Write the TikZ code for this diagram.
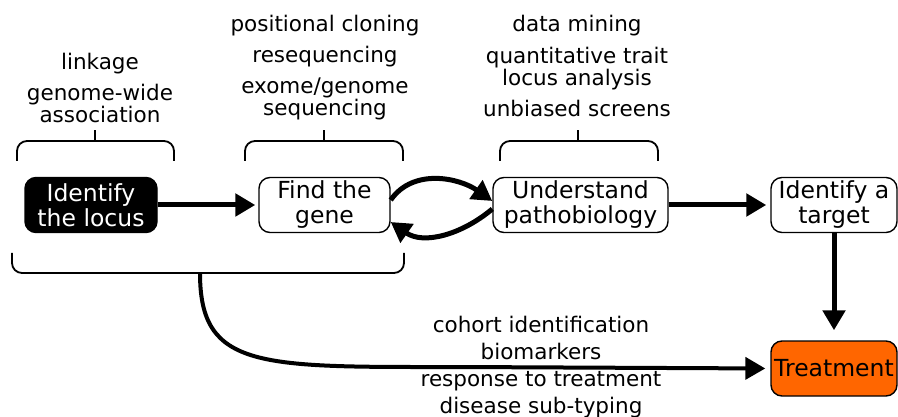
\documentclass[tikz,border=0pt]{standalone}
\usepackage{fontspec}
\setmainfont{DejaVu Sans}
\usetikzlibrary{arrows.meta,positioning}
\definecolor{treatOrange}{HTML}{FF6600}

\begin{document}
\begin{tikzpicture}[
  x=1pt, y=-1pt,
  stage/.style={draw, line width=1.4pt, rounded corners=11pt, align=center,
                inner sep=1pt, minimum height=55pt,
                font=\fontsize{23.5}{25}\selectfont},
  locusstage/.style={stage, fill=black, text=white},
  treatstage/.style={stage, fill=treatOrange},
  note/.style={align=center, inner sep=0pt, anchor=north,
               font=\fontsize{21.5}{22}\selectfont},
  brace/.style={line width=1.8pt, rounded corners=10pt},
  arr/.style={-{Triangle[length=20pt,width=22pt]}, line width=5pt}
]
\useasboundingbox (0,0) rectangle (898,417);

\node[locusstage, minimum width=132pt] (locus) at (91,205) {Identify\\the locus};
\node[stage, minimum width=131pt] (gene) at (324.5,205) {Find the\\gene};
\node[stage, minimum width=175pt] (patho) at (580.5,205) {Understand\\pathobiology};
\node[stage, minimum width=126pt] (target) at (834,205) {Identify a\\target};
\node[treatstage, minimum width=126pt] (treat) at (834,368.5) {Treatment};

\node[note] (locusnote) at (100,53) {linkage\\[9pt]genome-wide\\association};
\node[note] (genenote) at (325,15) {positional cloning\\[9pt]resequencing\\[9pt]exome/genome\\sequencing};
\node[note] (pathonote) at (577,15) {data mining\\[10pt]quantitative trait\\locus analysis\\[9pt]unbiased screens};
\node[note, font=\fontsize{21.5}{27}\selectfont] (outnote) at (541,316)
  {cohort identification\\biomarkers\\response to treatment\\disease sub-typing};

\foreach \l/\r/\m in {17/174/95,245/403/324,500/658/578}{
  \draw[brace] (\l,161) -- (\l,141) -- (\r,141) -- (\r,161);
  \draw[line width=2pt] (\m,141) -- (\m,130);
}
\draw[brace] (12,253) -- (12,273) -- (404,273) -- (404,253);
\coordinate (lowbrace) at (200,273);

\draw[arr, shorten >=3pt] (locus) -- (gene);
\draw[arr, shorten >=4pt] (patho) -- (target);
\draw[arr, shorten >=10pt] (target) -- (treat);
\draw[arr] ([yshift=5pt]gene.east) to[out=55,in=145] ([yshift=4pt]patho.west);
\draw[arr] ([yshift=-4pt]patho.west) to[out=-140,in=-35] ([yshift=-17pt]gene.east);
\draw[arr, line width=4pt, shorten >=5pt] (lowbrace) .. controls (200,370) and (260,367) .. (460,367) -- (treat.west);
\end{tikzpicture}
\end{document}
